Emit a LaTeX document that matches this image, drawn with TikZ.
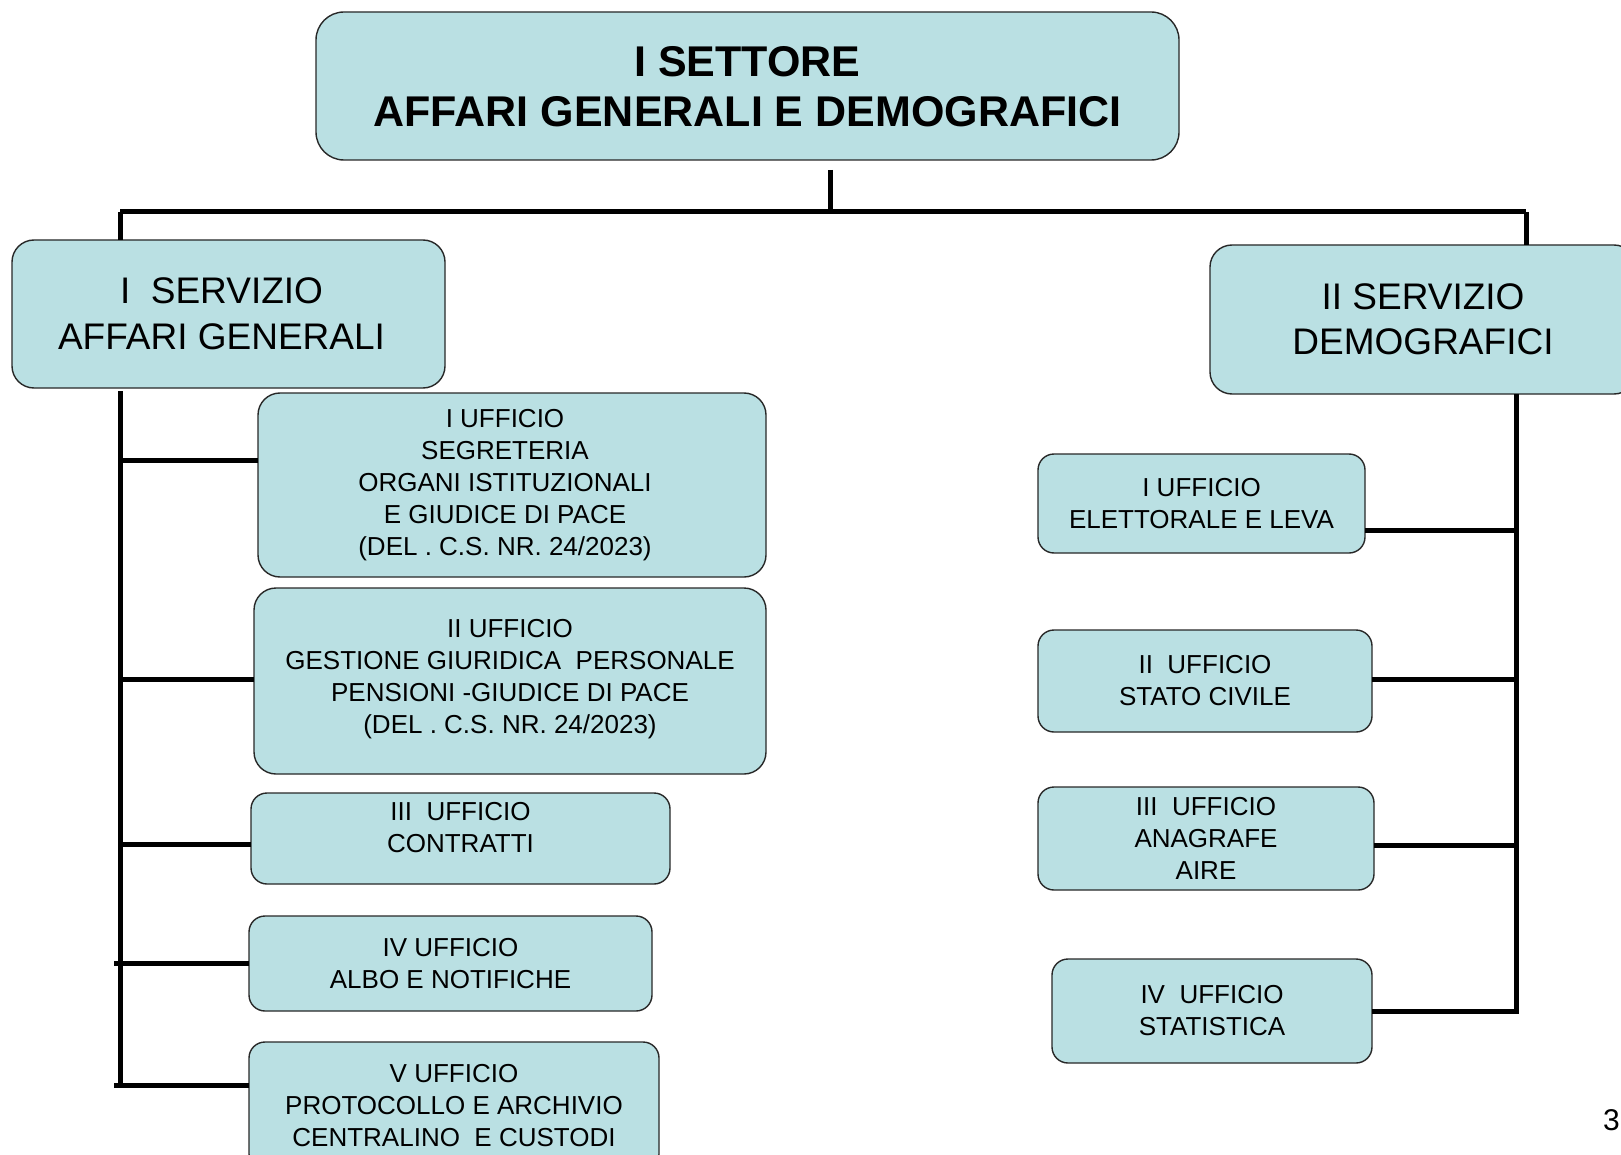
\documentclass[tikz,border=0pt]{standalone}
\usepackage{fontspec}
\setmainfont{Liberation Sans}
\definecolor{boxfill}{RGB}{186,224,227}
\definecolor{boxline}{RGB}{40,40,40}
\begin{document}
\begin{tikzpicture}[x=1pt,y=-1pt,
  box/.style={draw=boxline,line width=1.4pt,fill=boxfill,rounded corners=22pt,inner sep=0pt,outer sep=0pt},
  sbox/.style={box,rounded corners=16pt},
  txt/.style={align=center,inner sep=0pt,font=\fontsize{26}{32}\selectfont},
  conn/.style={line width=5pt,black}]
\useasboundingbox (0,0) rectangle (1621,1155);
\clip (0,0) rectangle (1621,1155);
\fill[white] (0,0) rectangle (1621,1155);

% top
\node[box,rounded corners=28pt,minimum width=863pt,minimum height=148pt] (top) at (747.5,86) {};
\node[align=center,inner sep=0pt,font=\fontsize{43}{50}\selectfont\bfseries] (toptxt) at ([yshift=-1pt]top.center) {I SETTORE\\AFFARI GENERALI E DEMOGRAFICI};

% services
\node[box,minimum width=433pt,minimum height=148pt] (s1) at (228.5,314) {};
\node[align=center,inner sep=0pt,font=\fontsize{37}{45.5}\selectfont] (s1t) at ([xshift=-7pt]s1.center) {I\ \ SERVIZIO\\AFFARI GENERALI};
\node[box,minimum width=426pt,minimum height=149pt] (s2) at (1423,319.5) {};
\node[align=center,inner sep=0pt,font=\fontsize{37}{45.5}\selectfont] (s2t) at (s2.center) {II SERVIZIO\\DEMOGRAFICI};

% left offices
\node[box,minimum width=508pt,minimum height=184pt] (ua) at (512,485) {};
\node[txt] (uat) at ([xshift=-7pt]ua.center) {I UFFICIO\\SEGRETERIA\\ORGANI ISTITUZIONALI\\E GIUDICE DI PACE\\(DEL . C.S. NR. 24/2023)};
\node[box,minimum width=512pt,minimum height=186pt] (ub) at (510,681) {};
\node[txt] (ubt) at ([yshift=2pt]ub.center) {II UFFICIO\\GESTIONE GIURIDICA\ \ PERSONALE\\PENSIONI -GIUDICE DI PACE\\(DEL . C.S. NR. 24/2023)};
\node[sbox,minimum width=419pt,minimum height=91pt] (uc) at (460.5,838.5) {};
\node[txt] (uct) at ([yshift=11pt]uc.center) {III\ \ UFFICIO\\CONTRATTI};
\node[sbox,minimum width=403pt,minimum height=95pt] (ud) at (450.5,963.5) {};
\node[txt] (udt) at (ud.center) {IV UFFICIO\\ALBO E NOTIFICHE};
\node[sbox,minimum width=410pt,minimum height=128pt] (ue) at (454,1106) {};
\node[txt] (uet) at (ue.center) {V UFFICIO\\PROTOCOLLO E ARCHIVIO\\CENTRALINO\ \ E CUSTODI};

% right offices
\node[sbox,minimum width=327pt,minimum height=99pt] (ra) at (1201.5,503.5) {};
\node[txt] (rat) at (ra.center) {I UFFICIO\\ELETTORALE E LEVA};
\node[sbox,minimum width=334pt,minimum height=102pt] (rb) at (1205,681) {};
\node[txt] (rbt) at (rb.center) {II\ \ UFFICIO\\STATO CIVILE};
\node[sbox,minimum width=336pt,minimum height=103pt] (rc) at (1206,838.5) {};
\node[txt] (rct) at (rc.center) {III\ \ UFFICIO\\ANAGRAFE\\AIRE};
\node[sbox,minimum width=320pt,minimum height=104pt] (rd) at (1212,1011) {};
\node[txt] (rdt) at (rd.center) {IV\ \ UFFICIO\\STATISTICA};

% connectors top
\coordinate (tstem) at (830,170);
\coordinate (tbar) at (830,212);
\coordinate (lbar) at (120,212);
\coordinate (rbar) at (1526,212);
\draw[conn] (tstem) -- (tbar);
\draw[conn] (lbar) -- (rbar);
\draw[conn] (lbar) -- (lbar |- s1.north);
\draw[conn] (rbar) -- (rbar |- s2.north);

% left trunk
\coordinate (ltop) at (120,391);
\coordinate (lbot) at (120,1088);
\draw[conn] (ltop) -- (lbot);
\coordinate (uaC) at ([yshift=25pt]ua.west);
\coordinate (ubC) at ([yshift=2pt]ub.west);
\coordinate (ucC) at ([yshift=-6pt]uc.west);
\coordinate (udC) at (ud.west);
\coordinate (ueC) at ([yshift=21pt]ue.west);
\draw[conn] (uaC) -- (uaC -| ltop);
\draw[conn] (ubC) -- (ubC -| ltop);
\draw[conn] (ucC) -- (ucC -| ltop);
\draw[conn] (udC) -- ([xshift=-6pt]udC -| ltop);
\draw[conn] (ueC) -- ([xshift=-6pt]ueC -| ltop);

% right trunk
\coordinate (rtop) at (1516,394);
\coordinate (raC) at ([yshift=-27pt]ra.east);
\coordinate (rbC) at ([yshift=2pt]rb.east);
\coordinate (rcC) at ([yshift=-7pt]rc.east);
\coordinate (rdC) at (rd.east);
\draw[conn] (rtop) |- (rdC);
\draw[conn] (raC) -- (raC -| rtop);
\draw[conn] (rbC) -- (rbC -| rtop);
\draw[conn] (rcC) -- (rcC -| rtop);

% page number
\node[anchor=east,inner sep=0pt,font=\fontsize{30}{30}\selectfont] (pg) at (1620,1120) {3};
\end{tikzpicture}
\end{document}
